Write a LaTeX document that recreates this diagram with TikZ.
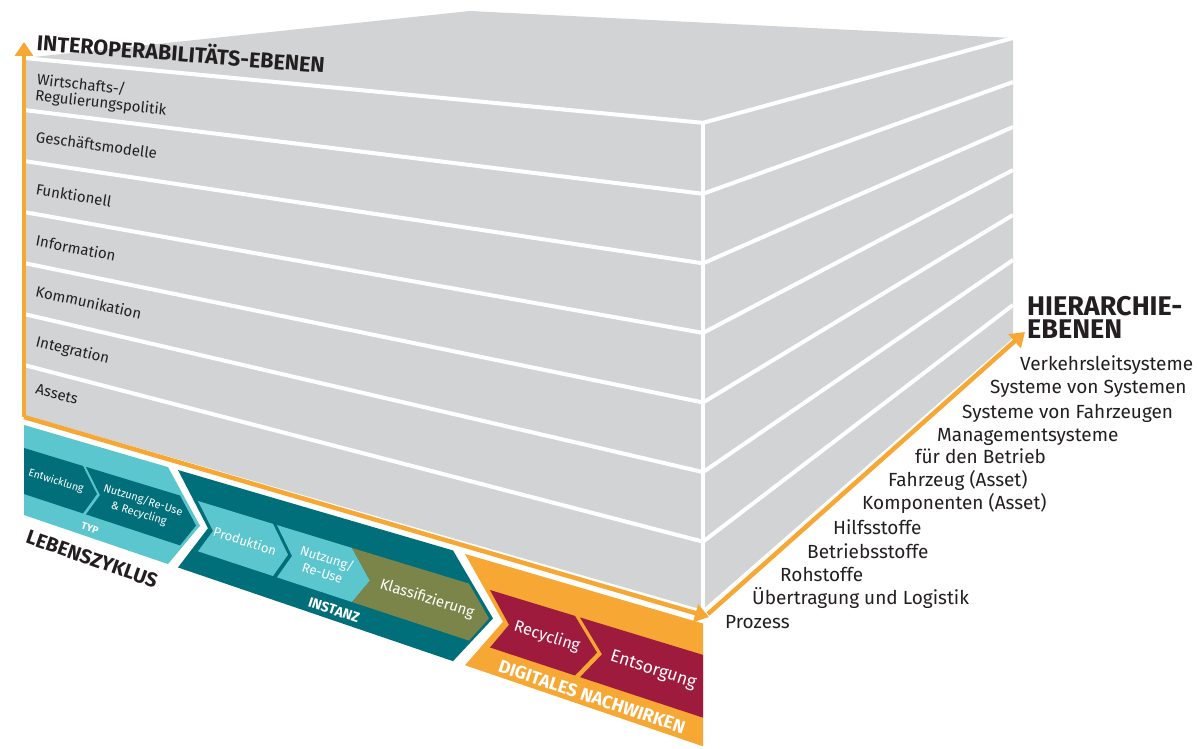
\documentclass[tikz,border=0pt]{standalone}
\usepackage{fontspec}
\setmainfont{Fira Sans}
\usetikzlibrary{arrows.meta}
\definecolor{facegray}{HTML}{D1D3D4}
\definecolor{axisorange}{HTML}{F7A733}
\definecolor{lteal}{HTML}{5CC6CF}
\definecolor{dteal}{HTML}{006F7A}
\definecolor{olivegreen}{HTML}{7B854A}
\definecolor{crimson}{HTML}{9F1B3D}
\definecolor{ink}{HTML}{231F20}

\makeatletter
\tikzdeclarecoordinatesystem{p}{\pcs@parse#1\pcs@end}
\def\pcs@parse#1,#2\pcs@end{%
  \pgfmathsetmacro\pcs@y{-120+((#1)+1840)/1864*((#2)+120)}%
  \pgfpoint{#1pt}{-\pcs@y pt}}
\makeatother

\newcommand\plab[5][]{%
  \pgfmathsetmacro\plabrot{-atan(((#4)+120)/1864)}%
  \node[#1,rotate=\plabrot] (#2) at (p cs:#3,#4) {#5};}

\tikzset{
  wline/.style={white,line width=4pt},
  facelab/.style={anchor=west,align=left,inner sep=0pt,text=ink,font=\fontsize{15}{16}\selectfont},
  chevtxt/.style={text=white,align=center,inner sep=0pt},
  bandlab/.style={text=white,inner sep=0pt},
  hierlab/.style={anchor=west,inner sep=0pt,text=ink,font=\fontsize{19}{20}\selectfont},
  axisarrow/.style={axisorange,line width=4.5pt,-{Triangle[width=18pt,length=14pt]}},
}

\begin{document}
\begin{tikzpicture}[x=1pt,y=-1pt]
\fill[white] (0,0) rectangle (1199,749);
\useasboundingbox (0,0) rectangle (1199,749);

% faces of the block
\fill[facegray] (24,58) -- (470,11) -- (1013,38) -- (703,123) -- cycle;
\fill[facegray] (p cs:24,58) -- (p cs:703,58) -- (p cs:703,415) -- (p cs:24,415) -- cycle;
\fill[facegray] (703,123) -- (1013,38) -- (1013,338) -- (703,609) -- cycle;

% layer lines
\foreach \w in {58,110,161,212,263,314,365}
  \draw[wline] (p cs:24,\w) -- (p cs:703,\w);
\foreach \w/\r in {58/38,110/82,161/127,212/170,263/215,314/260,365/305}
  \draw[wline] (p cs:703,\w) -- (1013,\r);
\draw[wline] (p cs:703,58) -- (p cs:703,415);

% lifecycle: TYP
\fill[lteal] (p cs:24,425) -- (p cs:168,425) -- (p cs:200,470) -- (p cs:168,515) -- (p cs:24,515) -- cycle;
\fill[dteal] (p cs:24,448) -- (p cs:83,448) -- (p cs:97,471) -- (p cs:83,494) -- (p cs:24,494) -- cycle;
\fill[dteal] (p cs:86,448) -- (p cs:180,448) -- (p cs:196,471) -- (p cs:180,494) -- (p cs:86,494) -- (p cs:100,471) -- cycle;
% INSTANZ
\fill[dteal] (p cs:178,425) -- (p cs:453,425) -- (p cs:493,470) -- (p cs:453,515) -- (p cs:178,515) -- (p cs:208,470) -- cycle;
\fill[lteal] (p cs:198,448) -- (p cs:273,448) -- (p cs:288,471) -- (p cs:273,494) -- (p cs:198,494) -- (p cs:213,471) -- cycle;
\fill[lteal] (p cs:277,448) -- (p cs:352,448) -- (p cs:370,471) -- (p cs:352,494) -- (p cs:277,494) -- (p cs:292,471) -- cycle;
\fill[olivegreen] (p cs:352,448) -- (p cs:469,448) -- (p cs:489,471) -- (p cs:469,494) -- (p cs:352,494) -- (p cs:370,471) -- cycle;
% DIGITALES NACHWIRKEN
\fill[axisorange] (p cs:465,425) -- (p cs:703,425) -- (p cs:703,515) -- (p cs:465,515) -- (p cs:503,470) -- cycle;
\fill[crimson] (p cs:490,448) -- (p cs:575,448) -- (p cs:597,471) -- (p cs:575,494) -- (p cs:490,494) -- (p cs:509,471) -- cycle;
\fill[crimson] (p cs:580,448) -- (p cs:703,448) -- (p cs:703,494) -- (p cs:580,494) -- (p cs:602,471) -- cycle;

% axes
\coordinate (origin) at (p cs:24,417);
\coordinate (uptip) at (24,42);
\coordinate (righttip) at (p cs:709,419);
\coordinate (hstart) at (708,614);
\coordinate (htip) at (1025,332);
\draw[axisorange,line width=4.5pt] (24,417) -- (origin);
\draw[axisarrow] (origin) -- (uptip);
\draw[axisarrow] (origin) -- (righttip);
\draw[axisarrow] (hstart) -- (htip);

% headings
\node[inner sep=0pt,text=ink,rotate=-4.5,font=\bfseries\fontsize{21.5}{22}\selectfont] (interop) at (181,52) {INTEROPERABILITÄTS-EBENEN};
\node[anchor=north west,align=left,inner sep=0pt,text=ink,font=\bfseries\fontsize{27}{23}\selectfont] (hier) at (1027,296) {HIERARCHIE-\\EBENEN};

% interoperability layers
\plab[facelab]{l1}{36}{87}{Wirtschafts-/\\Regulierungspolitik}
\plab[facelab]{l2}{36}{135}{Geschäftsmodelle}
\plab[facelab]{l3}{36}{187}{Funktionell}
\plab[facelab]{l4}{36}{238}{Information}
\plab[facelab]{l5}{36}{288}{Kommunikation}
\plab[facelab]{l6}{36}{339}{Integration}
\plab[facelab]{l7}{36}{385}{Assets}

% lifecycle texts
\plab[chevtxt,font=\fontsize{10.5}{12}\selectfont]{entw}{56}{471}{Entwicklung}
\plab[chevtxt,font=\fontsize{11}{14}\selectfont]{nutzA}{141}{470}{Nutzung/Re-Use\\\& Recycling}
\plab[chevtxt,font=\fontsize{13}{14}\selectfont]{prod}{245}{471}{Produktion}
\plab[chevtxt,font=\fontsize{13}{15.5}\selectfont]{nutzB}{325}{470}{Nutzung/\\Re-Use}
\plab[chevtxt,font=\fontsize{15}{16}\selectfont]{klass}{427}{471}{Klassifizierung}
\plab[chevtxt,font=\fontsize{16}{17}\selectfont]{recy}{547}{471}{Recycling}
\plab[chevtxt,font=\fontsize{17.5}{19}\selectfont]{ents}{653}{471}{Entsorgung}
\plab[bandlab,font=\bfseries\fontsize{10}{12}\selectfont]{typ}{90}{506}{TYP}
\plab[bandlab,font=\bfseries\fontsize{14}{15}\selectfont]{inst}{334}{506}{INSTANZ}
\plab[bandlab,font=\bfseries\fontsize{18}{19}\selectfont]{dig}{592}{506}{DIGITALES NACHWIRKEN}
\plab[inner sep=0pt,text=ink,font=\bfseries\fontsize{20}{22}\selectfont]{lzk}{92}{535}{LEBENSZYKLUS}

% hierarchy levels
\node[hierlab] (verk) at (1020,365) {Verkehrsleitsysteme};
\node[hierlab] (svs) at (990,389) {Systeme von Systemen};
\node[hierlab] (svf) at (962,413) {Systeme von Fahrzeugen};
\node[hierlab] (mgmt) at (937,437) {Managementsysteme};
\node[hierlab] (betr) at (915,456) {für den Betrieb};
\node[hierlab] (fzg) at (888,480) {Fahrzeug (Asset)};
\node[hierlab] (komp) at (862,503) {Komponenten (Asset)};
\node[hierlab] (hilf) at (833,527) {Hilfsstoffe};
\node[hierlab] (betrs) at (807,551) {Betriebsstoffe};
\node[hierlab] (roh) at (780,574) {Rohstoffe};
\node[hierlab] (uebl) at (752,598) {Übertragung und Logistik};
\node[hierlab] (proz) at (725,622) {Prozess};
\end{tikzpicture}
\end{document}
